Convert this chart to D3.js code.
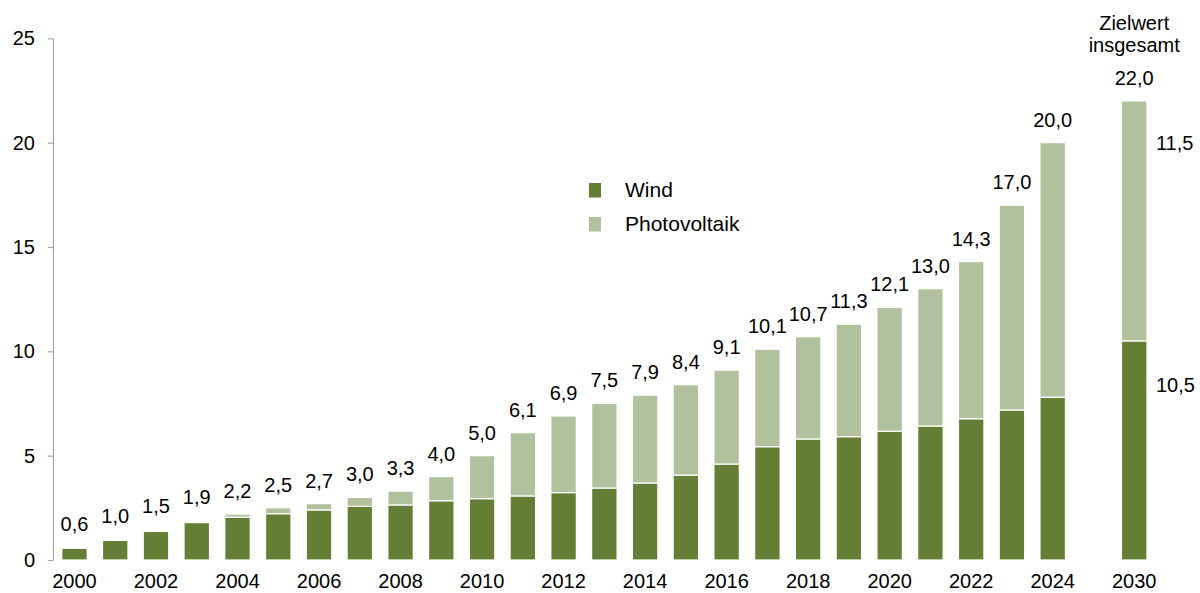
<!DOCTYPE html>
<html>
<head>
<meta charset="utf-8">
<script src="https://cdn.jsdelivr.net/npm/d3@7"></script>
<style>
  html, body { margin: 0; padding: 0; background: #fff; }
  svg { display: block; font-family: "Liberation Sans", Arial, sans-serif; }
</style>
</head>
<body>
<svg id="chart" width="1200" height="593"></svg>
<script>
// categories (a blank slot sits between 2024 and 2030)
const years = ['2000', '2001', '2002', '2003', '2004', '2005', '2006', '2007', '2008', '2009',
  '2010', '2011', '2012', '2013', '2014', '2015', '2016', '2017', '2018', '2019',
  '2020', '2021', '2022', '2023', '2024', 'gap', '2030'];
const barYears = years.filter(d => d !== 'gap');

// series values
const wind = [0.56, 0.94, 1.37, 1.79, 2.05, 2.22, 2.40, 2.57, 2.64, 2.84,
  2.94, 3.07, 3.23, 3.45, 3.69, 4.07, 4.60, 5.43, 5.80, 5.91,
  6.17, 6.42, 6.77, 7.19, 7.80, 10.5];
const pv = [0, 0, 0, 0, 0.15, 0.28, 0.30, 0.43, 0.66, 1.16,
  2.06, 3.03, 3.67, 4.05, 4.21, 4.33, 4.50, 4.67, 4.90, 5.39,
  5.93, 6.58, 7.53, 9.81, 12.20, 11.5];
const totals = [0.6, 1.0, 1.5, 1.9, 2.2, 2.5, 2.7, 3.0, 3.3, 4.0,
  5.0, 6.1, 6.9, 7.5, 7.9, 8.4, 9.1, 10.1, 10.7, 11.3,
  12.1, 13.0, 14.3, 17.0, 20.0, 22.0];

// tick labels
const xTickLabels = ['2000', '2002', '2004', '2006', '2008', '2010', '2012',
  '2014', '2016', '2018', '2020', '2022', '2024', '2030'];
const yTicks = [0, 5, 10, 15, 20, 25];

const seriesNames = ['Wind', 'Photovoltaik'];
const colors = { Wind: '#647e36', Photovoltaik: '#b2c19d' };

const fmt = v => d3.format('.1f')(v).replace('.', ',');

const svg = d3.select('#chart');
const fontSize = 20;

const x = d3.scaleBand()
  .domain(years)
  .range([54.1, 1154.6])
  .paddingInner(0.375)
  .paddingOuter(0.1875);

const y = d3.scaleLinear()
  .domain([0, 25])
  .range([560, 38.3]);

const rows = barYears.map((yr, i) => ({ year: yr, Wind: wind[i], Photovoltaik: pv[i], total: totals[i] }));
const stacked = d3.stack().keys(seriesNames)(rows);

// y axis
const yAxis = svg.append('g')
  .attr('transform', 'translate(53,0)')
  .call(d3.axisLeft(y).tickValues(yTicks).tickSize(5).tickPadding(13).tickSizeOuter(0));
yAxis.select('.domain').attr('stroke', '#a6a6a6').attr('stroke-width', 1.2);
yAxis.selectAll('.tick line').attr('stroke', '#a6a6a6').attr('stroke-width', 1.2);
yAxis.selectAll('.tick text')
  .attr('font-size', fontSize)
  .attr('font-family', '"Liberation Sans", Arial, sans-serif')
  .attr('fill', '#000');

// x axis (labels only)
const xAxis = svg.append('g')
  .attr('transform', 'translate(0,560)')
  .call(d3.axisBottom(x).tickValues(xTickLabels).tickSize(0).tickPadding(0));
xAxis.select('.domain').remove();
xAxis.selectAll('.tick text')
  .attr('font-size', fontSize)
  .attr('font-family', '"Liberation Sans", Arial, sans-serif')
  .attr('fill', '#000')
  .attr('dy', null)
  .attr('y', 28);

// bars
svg.append('g')
  .selectAll('g')
  .data(stacked)
  .join('g')
  .attr('fill', d => colors[d.key])
  .selectAll('rect')
  .data(d => d.filter(s => s[1] - s[0] > 0))
  .join('rect')
  .attr('x', d => x(d.data.year))
  .attr('y', d => y(d[1]))
  .attr('width', x.bandwidth())
  .attr('height', d => y(d[0]) - y(d[1]))
  .attr('stroke', '#fff')
  .attr('stroke-width', 1.2);

// total labels
svg.append('g')
  .selectAll('text')
  .data(rows)
  .join('text')
  .attr('x', d => x(d.year) + x.bandwidth() / 2)
  .attr('y', d => y(d.total) - 16)
  .attr('text-anchor', 'middle')
  .attr('font-size', fontSize)
  .text(d => fmt(d.total));

// target annotation for 2030
const last = rows[rows.length - 1];
const cx = x(last.year) + x.bandwidth() / 2;
svg.append('text')
  .attr('x', cx).attr('y', y(last.total) - 71)
  .attr('text-anchor', 'middle').attr('font-size', fontSize)
  .text('Zielwert');
svg.append('text')
  .attr('x', cx).attr('y', y(last.total) - 49)
  .attr('text-anchor', 'middle').attr('font-size', fontSize)
  .text('insgesamt');
svg.append('text')
  .attr('x', x(last.year) + x.bandwidth() + 9)
  .attr('y', y(last.total) + 49)
  .attr('font-size', fontSize)
  .text(fmt(last.Photovoltaik));
svg.append('text')
  .attr('x', x(last.year) + x.bandwidth() + 9)
  .attr('y', y(last.Wind) + 51)
  .attr('font-size', fontSize)
  .text(fmt(last.Wind));

// legend
const legend = svg.append('g').attr('transform', 'translate(589,183)');
seriesNames.forEach((name, i) => {
  const row = legend.append('g').attr('transform', `translate(0,${i * 34})`);
  row.append('rect')
    .attr('width', 12).attr('height', 14.5)
    .attr('fill', colors[name]);
  row.append('text')
    .attr('x', 36).attr('y', 13.5)
    .attr('font-size', 21)
    .text(name);
});
</script>
</body>
</html>
